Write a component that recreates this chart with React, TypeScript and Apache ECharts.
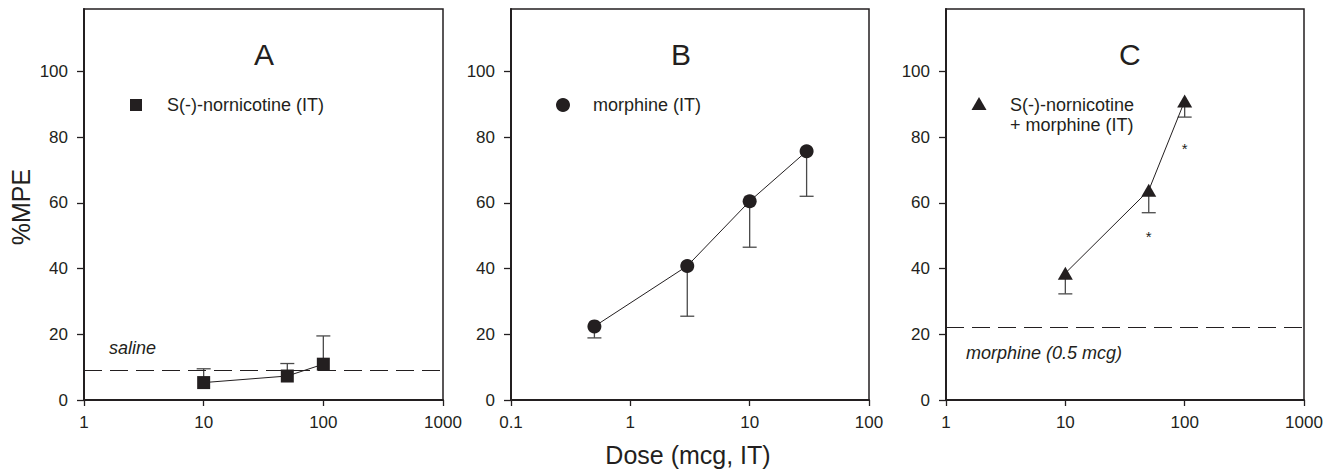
import React, { useEffect, useRef } from "react";
import * as echarts from "echarts";

// Panel A: S(-)-nornicotine (IT)
const doseA = [10, 50, 100];
const mpeA = [5.3, 7.3, 10.9];
const semA = [4.2, 3.8, 8.6];
const salineLevel = 9;

// Panel B: morphine (IT)
const doseB = [0.5, 3, 10, 30];
const mpeB = [22.4, 40.8, 60.5, 75.7];
const semB = [3.5, 15.3, 14.0, 13.7];

// Panel C: S(-)-nornicotine + morphine (IT)
const doseC = [10, 50, 100];
const mpeC = [38.6, 63.8, 91.0];
const semC = [6.3, 6.8, 4.9];
const morphineLevel = 22;
const starDoseC = [50, 100];
const starMpeC = [50.1, 76.8];

const yTicks = [0, 20, 40, 60, 80, 100];
const xRanges = [
  [1, 1000],
  [0.1, 100],
  [1, 1000],
];

const INK = "#231f20";
const FONT = "Liberation Sans, Arial, sans-serif";

function errorBars(gridIdx: number, dose: number[], mpe: number[], sem: number[], dir: number) {
  return {
    type: "custom",
    xAxisIndex: gridIdx,
    yAxisIndex: gridIdx,
    z: 1,
    silent: true,
    data: dose.map((d, i) => [d, mpe[i], sem[i]]),
    encode: { x: 0, y: 1 },
    renderItem: (params: any, api: any) => {
      const x = api.value(0);
      const y = api.value(1);
      const e = api.value(2);
      const p0 = api.coord([x, y]);
      const p1 = api.coord([x, y + dir * e]);
      const style = { stroke: "#4a4a4a", lineWidth: 1.3 };
      return {
        type: "group",
        children: [
          { type: "line", shape: { x1: p0[0], y1: p0[1], x2: p1[0], y2: p1[1] }, style },
          { type: "line", shape: { x1: p1[0] - 7, y1: p1[1], x2: p1[0] + 7, y2: p1[1] }, style },
        ],
      };
    },
  };
}

function lineSeries(gridIdx: number, dose: number[], mpe: number[], symbol: string, size: number | number[], markLevel?: number) {
  const s: any = {
    type: "line",
    xAxisIndex: gridIdx,
    yAxisIndex: gridIdx,
    z: 3,
    data: dose.map((d, i) => [d, mpe[i]]),
    symbol,
    symbolSize: size,
    showAllSymbol: true,
    itemStyle: { color: INK, opacity: 1 },
    lineStyle: { color: INK, width: 1 },
    silent: true,
  };
  if (markLevel !== undefined) {
    s.markLine = {
      silent: true,
      symbol: "none",
      label: { show: false },
      lineStyle: { color: INK, width: 1, type: [18, 8] },
      data: [{ yAxis: markLevel }],
    };
  }
  return s;
}

export default function App() {
  const ref = useRef<HTMLDivElement>(null);
  useEffect(() => {
    document.body.style.margin = "0";
    const chart = echarts.init(ref.current!, null, { renderer: "svg" });
    const lefts = [84, 511, 946];
    const widths = [359, 358, 358];
    const grid = lefts.map((l, i) => ({
      left: l,
      top: 9,
      width: widths[i],
      height: 391,
      show: true,
      borderColor: INK,
      borderWidth: 1.5,
      backgroundColor: "transparent",
    }));
    const xAxis = xRanges.map((r, i) => ({
      type: "log",
      logBase: 10,
      gridIndex: i,
      min: r[0],
      max: r[1],
      axisLine: { show: true, lineStyle: { color: INK, width: 2 } },
      axisTick: { show: true, inside: false, length: 6, lineStyle: { color: INK, width: 1.3 } },
      minorTick: { show: false },
      splitLine: { show: false },
      minorSplitLine: { show: false },
      axisLabel: {
        color: INK,
        fontFamily: FONT,
        fontSize: 17,
        margin: 14,
        showMinLabel: true,
        showMaxLabel: true,
        formatter: (v: number) => String(v),
      },
    }));
    const yAxis = [0, 1, 2].map((i) => ({
      type: "value",
      gridIndex: i,
      min: 0,
      max: 119,
      axisLine: { show: true, lineStyle: { color: INK, width: 2 } },
      axisTick: { show: true, inside: false, length: 7, customValues: yTicks, lineStyle: { color: INK, width: 1.3 } },
      splitLine: { show: false },
      axisLabel: {
        color: INK,
        fontFamily: FONT,
        fontSize: 17,
        margin: 16,
        customValues: yTicks,
      },
    }));

    const textStyle = (extra: any) => ({ fill: INK, fontFamily: FONT, ...extra });

    const option: any = {
      animation: false,
      grid,
      xAxis,
      yAxis,
      series: [
        errorBars(0, doseA, mpeA, semA, 1),
        lineSeries(0, doseA, mpeA, "rect", 13, salineLevel),
        errorBars(1, doseB, mpeB, semB, -1),
        lineSeries(1, doseB, mpeB, "circle", 14),
        errorBars(2, doseC, mpeC, semC, -1),
        lineSeries(2, doseC, mpeC, "triangle", [15, 13], morphineLevel),
        {
          type: "scatter",
          xAxisIndex: 2,
          yAxisIndex: 2,
          silent: true,
          z: 4,
          symbol: "circle",
          symbolSize: 2,
          itemStyle: { color: "rgba(0,0,0,0)" },
          data: starDoseC.map((d, i) => [d, starMpeC[i]]),
          label: {
            show: true,
            position: "inside",
            formatter: "*",
            color: INK,
            opacity: 1,
            fontFamily: FONT,
            fontSize: 15,
            offset: [0, 1],
          },
        },
      ],
      graphic: [
        { type: "text", left: 254, top: 39, style: textStyle({ text: "A", fontSize: 30 }) },
        { type: "text", left: 671, top: 39, style: textStyle({ text: "B", fontSize: 30 }) },
        { type: "text", left: 1119, top: 39, style: textStyle({ text: "C", fontSize: 30 }) },
        {
          type: "text",
          x: 21,
          y: 207,
          rotation: Math.PI / 2,
          style: textStyle({ text: "%MPE", fontSize: 25, align: "center", verticalAlign: "middle" }),
        },
        {
          type: "text",
          x: 688,
          y: 455,
          style: textStyle({ text: "Dose (mcg, IT)", fontSize: 25, align: "center", verticalAlign: "middle" }),
        },
        // legends
        { type: "rect", shape: { x: 130, y: 99, width: 12, height: 12 }, style: { fill: INK } },
        {
          type: "text",
          x: 167,
          y: 105,
          style: textStyle({ text: "S(-)-nornicotine (IT)", fontSize: 18, verticalAlign: "middle" }),
        },
        { type: "circle", shape: { cx: 563, cy: 105, r: 7 }, style: { fill: INK } },
        {
          type: "text",
          x: 593,
          y: 105,
          style: textStyle({ text: "morphine (IT)", fontSize: 18, verticalAlign: "middle" }),
        },
        {
          type: "polygon",
          shape: { points: [[979, 97], [986.5, 110], [971.5, 110]] },
          style: { fill: INK },
        },
        {
          type: "text",
          x: 1010,
          y: 105,
          style: textStyle({ text: "S(-)-nornicotine", fontSize: 18, verticalAlign: "middle" }),
        },
        {
          type: "text",
          x: 1010,
          y: 125,
          style: textStyle({ text: "+ morphine (IT)", fontSize: 18, verticalAlign: "middle" }),
        },
        {
          type: "text",
          x: 109,
          y: 348,
          style: textStyle({ text: "saline", fontSize: 18, fontStyle: "italic", verticalAlign: "middle" }),
        },
        {
          type: "text",
          x: 966,
          y: 353,
          style: textStyle({ text: "morphine (0.5 mcg)", fontSize: 18, fontStyle: "italic", verticalAlign: "middle" }),
        },
      ],
    };
    chart.setOption(option);
    return () => chart.dispose();
  }, []);
  return <div ref={ref} style={{ width: 1336, height: 472 }} />;
}
